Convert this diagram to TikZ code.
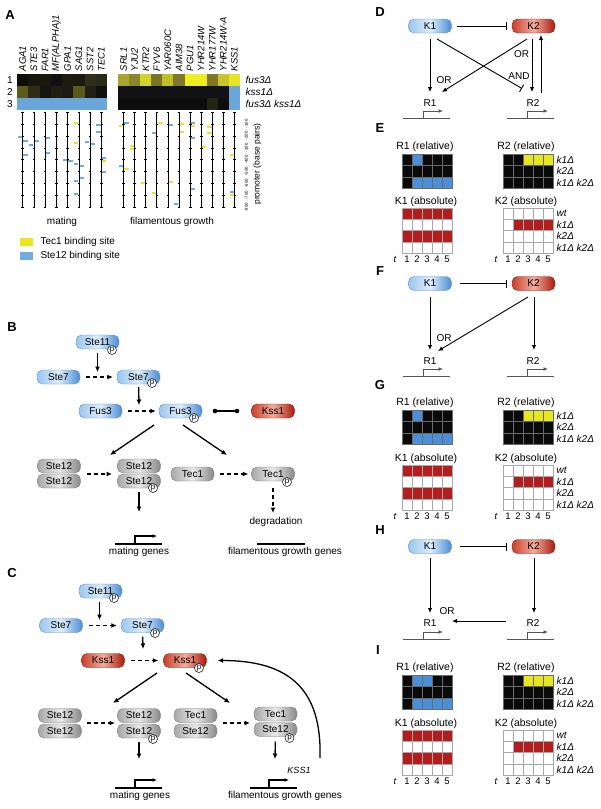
\documentclass[tikz,border=0pt]{standalone}
\usepackage{fontspec}
\setmainfont{Liberation Sans}
\usetikzlibrary{arrows.meta,calc}

\definecolor{bL}{HTML}{9CC6EE}
\definecolor{bM}{HTML}{DDEEFB}
\definecolor{bR}{HTML}{4A8CD4}
\definecolor{bD}{HTML}{5A8FC6}
\definecolor{rL}{HTML}{C8402E}
\definecolor{rM}{HTML}{F2AC9C}
\definecolor{rR}{HTML}{A81A0C}
\definecolor{rD}{HTML}{8E1A10}
\definecolor{gL}{HTML}{A8A8A8}
\definecolor{gM}{HTML}{E8E8E8}
\definecolor{gR}{HTML}{888888}
\definecolor{gD}{HTML}{7A7A7A}
\definecolor{hk}{HTML}{0A0A0A}
\definecolor{hb}{HTML}{4B8FD9}
\definecolor{hy}{HTML}{E8E61E}
\definecolor{hr}{HTML}{B21E1E}
\definecolor{hw}{HTML}{FFFFFF}
\definecolor{siteY}{HTML}{ECE41E}
\definecolor{siteB}{HTML}{72ACDE}
\definecolor{hmB}{HTML}{6AA6DC}
\definecolor{hmK}{HTML}{101216}
\definecolor{hmO}{HTML}{242414}
\definecolor{geneG}{HTML}{555555}
\definecolor{relG}{HTML}{6A6A6A}
\definecolor{absG}{HTML}{A8A8A8}

\tikzset{
  plbl/.style={font=\bfseries\fontsize{13}{15}\selectfont},
  gname/.style={rotate=90, anchor=west, inner sep=0.5pt, font=\itshape\fontsize{9.5}{10}\selectfont},
  rlab/.style={anchor=west, inner sep=0.5pt, font=\itshape\fontsize{10}{12}\selectfont},
  tick/.style={rotate=90, inner sep=0pt, font=\fontsize{4.3}{5}\selectfont},
  pill/.style={rounded corners=5.5pt, minimum width=43pt, minimum height=14pt, inner sep=0pt, line width=0.4pt},
  bluepill/.style={pill, draw=bD, left color=bL, right color=bR, middle color=bM},
  redpill/.style={pill, draw=rD, left color=rL, right color=rR, middle color=rM},
  greypill/.style={pill, draw=gD, left color=gL, right color=gR, middle color=gM},
  phos/.style={circle, draw=black, fill=white, line width=0.5pt, inner sep=0pt, minimum size=9pt, font=\fontsize{8}{8}\selectfont},
  bdot/.style={circle, fill=black, inner sep=0pt, minimum size=4.6pt},
  arr/.style={line width=1.3pt, -{Latex[length=5.5pt,width=5pt]}},
  darr/.style={arr, dash pattern=on 4pt off 3pt},
  thinarr/.style={line width=0.9pt, -{Latex[length=5pt,width=4.5pt]}},
  inh/.style={line width=0.9pt, -{Bar[width=8pt,line width=0.9pt]}},
  gene/.style={line width=1.3pt},
  prom/.style={line width=1.1pt, -{Latex[length=4.5pt,width=4pt]}},
  dgene/.style={line width=1pt, draw=geneG},
  dprom/.style={line width=1pt, draw=geneG, -{Latex[length=4.5pt,width=4pt]}},
  ttl/.style={font=\fontsize{10.5}{12}\selectfont},
  tl/.style={inner sep=0pt, font=\fontsize{9.5}{10}\selectfont},
}

\newcommand\hgrid[5]{%
  \foreach \row [count=\rr] in {#5} {%
    \foreach \hc [count=\ii] in \row {%
      \filldraw[fill=h\hc, draw=#4, line width=0.5pt] ({#1+10*(\ii-1)},{#2+#3*(\rr-1)}) rectangle ++(10,#3);
    }%
  }%
}
\newcommand\trow[2]{%
  \node[tl] (tt) at ({#1-7},#2) {\textit{t}};
  \foreach \n in {1,...,5} \node[tl] (tn\n) at ({#1+10*\n-5},#2) {\n};
}
\newcommand\bsite[4]{\fill[#4] ({#1+#3*0.7},{#2-1}) rectangle ({#1+#3*5},{#2+1});}

\begin{document}
\begin{tikzpicture}[x=1pt,y=-1pt, every node/.style={font=\fontsize{10}{12}\selectfont, text=black}]
\useasboundingbox (0,0) rectangle (601,809);
\fill[white] (0,0) rectangle (601,809);

%================ Panel A ================
\node[plbl] (lA) at (10,15) {A};
\foreach \g [count=\ii] in {AGA1,STE3,FAR1,MF(ALPHA)1,GPA1,SAG1,SST2,TEC1}
  \node[gname] (mg\ii) at ({17+11.25*(\ii-0.5)},72) {\g};
\foreach \g [count=\ii] in {SRL1,YJU2,KTR2,FYV6,YAR060C,AIM38,PGU1,YHR214W,YHR177W,YHR214W-A,KSS1}
  \node[gname] (fg\ii) at ({118+11.09*(\ii-0.5)},72) {\g};

% heatmaps
\foreach \col [count=\ii] in {0E0E0A,16160F,18180F,101010,1E1C10,1A1A10,302E18,2A2A18}
  {\definecolor{tmpc}{HTML}{\col}\fill[tmpc] ({17+11.25*(\ii-1)},74) rectangle ++(11.3,12.2);}
\foreach \col [count=\ii] in {5E5C1C,2E2C14,151510,1E1E12,1A1A10,5A581C,202014,101010}
  {\definecolor{tmpc}{HTML}{\col}\fill[tmpc] ({17+11.25*(\ii-1)},86) rectangle ++(11.3,12.2);}
\fill[hmB] (17,98) rectangle (107,110);
\foreach \col [count=\ii] in {A8A42E,8C8628,D6D22C,7A7428,C2BE2A,807A28,F0EC22,F0EC22,7E7828,C8C42C,E8E428}
  {\definecolor{tmpc}{HTML}{\col}\fill[tmpc] ({118+11.09*(\ii-1)},74) rectangle ++(11.15,12.2);}
\fill[hmK] (118,86) rectangle (229,98);
\fill[black!95] (118,98) rectangle (229,110);
\fill[hmO] (207,98) rectangle (218,110);
\fill[hmB] (229,86) rectangle (240,110);

\node (n1) at (10,80) {1};
\node (n2) at (10,92) {2};
\node (n3) at (10,104) {3};
\node[rlab] (lf) at (245,80) {fus3Δ};
\node[rlab] (lk) at (245,92) {kss1Δ};
\node[rlab] (lfk) at (245,104) {fus3Δ kss1Δ};

% promoter lines
\foreach \x in {22.6,33.9,45.1,56.4,67.6,78.9,90.1,101.4,123.5,134.6,145.7,156.8,167.9,179.0,190.2,201.3,212.4,223.5,234.6} {
  \draw[line width=0.7pt] (\x,112) -- (\x,207);
  \foreach \k in {0,...,8} \draw[line width=0.4pt] ({\x-1.3},{112+11.9*\k}) -- ({\x+1.3},{112+11.9*\k});
}
% binding sites: x, y, side(-1 left / 1 right), colour
\bsite{22.6}{137}{-1}{siteB}\bsite{22.6}{141}{1}{siteB}\bsite{22.6}{155}{1}{siteB}
\bsite{33.9}{141}{1}{siteB}\bsite{33.9}{144.5}{-1}{siteB}
\bsite{45.1}{138}{1}{siteB}\bsite{45.1}{153}{1}{siteB}
\bsite{67.6}{160}{-1}{siteB}\bsite{67.6}{161}{1}{siteB}
\bsite{78.9}{123}{-1}{siteY}\bsite{78.9}{143}{-1}{siteY}\bsite{78.9}{164}{-1}{siteB}\bsite{78.9}{166}{1}{siteB}
\bsite{78.9}{178}{1}{siteB}\bsite{78.9}{181}{-1}{siteB}\bsite{78.9}{194}{-1}{siteB}
\bsite{90.1}{142}{-1}{siteB}\bsite{90.1}{143.5}{1}{siteB}
\bsite{101.4}{125}{-1}{siteB}\bsite{101.4}{132}{-1}{siteB}\bsite{101.4}{158}{1}{siteB}\bsite{101.4}{160.5}{1}{siteY}\bsite{101.4}{172}{1}{siteB}
\bsite{123.5}{123.3}{1}{siteB}\bsite{123.5}{126}{-1}{siteY}\bsite{123.5}{166}{-1}{siteB}\bsite{123.5}{169}{1}{siteY}
\bsite{134.6}{146}{-1}{siteY}\bsite{134.6}{149}{-1}{siteY}
\bsite{145.7}{183}{-1}{siteY}
\bsite{156.8}{123.3}{1}{siteY}\bsite{156.8}{133}{-1}{siteB}\bsite{156.8}{193}{-1}{siteY}
\bsite{167.9}{125}{1}{siteB}\bsite{167.9}{182}{1}{siteY}
\bsite{179.0}{124}{1}{siteY}\bsite{179.0}{132}{1}{siteY}\bsite{179.0}{204}{-1}{siteB}
\bsite{190.2}{123}{1}{siteB}\bsite{190.2}{126}{1}{siteY}\bsite{190.2}{138}{1}{siteB}\bsite{190.2}{189}{1}{siteB}
\bsite{201.3}{147}{1}{siteY}
\bsite{212.4}{127}{-1}{siteY}\bsite{212.4}{133}{-1}{siteY}
\bsite{234.6}{155}{-1}{siteY}\bsite{234.6}{192}{-1}{siteB}\bsite{234.6}{194.5}{-1}{siteY}

\foreach \v [count=\k] in {-100,-200,-300,-400,-500,-600,-700,-800}
  \node[tick] (ax\k) at (246.5,{112+11.9*\k}) {\v};
\node[rotate=90, font=\fontsize{8.5}{10}\selectfont] (axl) at (257.5,164) {promoter (base pairs)};

\node (tmat) at (62,222) {mating};
\node (tfil) at (172,222) {filamentous growth};
\fill[siteY] (20,238) rectangle (33,246);
\node[anchor=west] (legY) at (37,242) {Tec1 binding site};
\fill[siteB] (20,252) rectangle (33,259.5);
\node[anchor=west] (legB) at (37,256) {Ste12 binding site};

%================ Panel B ================
\node[plbl] (lB) at (12,327) {B};
\node[bluepill] (bSte11) at (97.5,342) {Ste11};
\node[phos] (bP11) at (112,350) {p};
\node[bluepill] (bSte7) at (58.5,377) {Ste7};
\node[bluepill] (bSte7p) at (138.5,377) {Ste7};
\node[phos] (bP7) at (152,383) {p};
\node[bluepill] (bFus3) at (100.5,411) {Fus3};
\node[bluepill] (bFus3p) at (180.5,411) {Fus3};
\node[phos] (bPF) at (194,418) {p};
\node[redpill] (bKss1) at (273,411) {Kss1};

\draw[darr, shorten <=6pt, shorten >=4pt] (bSte7) -- (bSte7p);
\coordinate (bM1) at (97.5,372);
\draw[arr, shorten <=4pt] (bSte11) -- (bM1);
\draw[darr, shorten <=6pt, shorten >=3pt] (bFus3) -- (bFus3p);
\coordinate (bM2) at (139,405);
\draw[arr, shorten <=3pt] (bSte7p) -- (bM2);
\node[bdot] (bDot1) at (215,411) {};
\node[bdot] (bDot2) at (237,411) {};
\draw[line width=1.3pt] (bDot1.center) -- (bDot2.center);

\node[greypill] (bA1) at (59,466) {Ste12};
\node[greypill] (bA2) at (59,481) {Ste12};
\node[greypill] (bB1) at (139,466) {Ste12};
\node[greypill] (bB2) at (139,481) {Ste12};
\node[phos] (bPB) at (153,488) {p};
\node[greypill] (bT1) at (192.5,474) {Tec1};
\node[greypill] (bT2) at (273,474) {Tec1};
\node[phos] (bPT) at (287,482) {p};

\coordinate (bF1) at (154,425);
\coordinate (bF2) at (183,425);
\coordinate (bE1) at (110,455);
\coordinate (bE2) at (227,455);
\draw[arr] (bF1) -- (bE1);
\draw[arr] (bF2) -- (bE2);
\draw[darr, shorten <=6pt, shorten >=6pt] (80.5,474) -- (118,474);
\draw[darr, shorten <=6pt, shorten >=3pt] (bT1) -- (bT2);
\node (bdeg) at (276,522) {degradation};
\coordinate (bDg) at (273,513);
\draw[darr, shorten <=7pt] (bT2) -- (bDg);
\coordinate (bG1) at (139,512);
\draw[arr, shorten <=4pt] (bB2) -- (bG1);

\draw[gene] (115,544) -- (162,544);
\draw[prom] (135,544) |- (157,536);
\node (bmg) at (139,551.5) {mating genes};
\draw[gene] (257,544) -- (305,544);
\node (bfg) at (285,551.5) {filamentous growth genes};

%================ Panel C ================
\node[plbl] (lC) at (12,573) {C};
\node[bluepill] (cSte11) at (100.5,591) {Ste11};
\node[phos] (cP11) at (114,598) {p};
\node[bluepill] (cSte7) at (61,625.5) {Ste7};
\node[bluepill] (cSte7p) at (142.5,625.5) {Ste7};
\node[phos] (cP7) at (155,633) {p};
\node[redpill] (cKss1) at (103,660.5) {Kss1};
\node[redpill] (cKss1p) at (185,660.5) {Kss1};
\node[phos] (cPK) at (199,668) {p};

\coordinate (cM1) at (99.5,620);
\draw[arr, shorten <=4pt] (cSte11.south -| cM1) -- (cM1);
\draw[darr, shorten <=6pt, shorten >=4pt] (cSte7) -- (cSte7p);
\coordinate (cM2) at (143,649);
\draw[arr, shorten <=4pt] (cSte7p) -- (cM2);
\draw[darr, shorten <=6pt, shorten >=5pt] (cKss1) -- (cKss1p);

\node[greypill] (cA1) at (60,715.5) {Ste12};
\node[greypill] (cA2) at (60,731) {Ste12};
\node[greypill] (cB1) at (139,715.5) {Ste12};
\node[greypill] (cB2) at (139,731) {Ste12};
\node[phos] (cPB) at (153,739) {p};
\node[greypill] (cC1) at (195.5,715.5) {Tec1};
\node[greypill] (cC2) at (195.5,731) {Ste12};
\node[greypill] (cD1) at (275.5,714) {Tec1};
\node[greypill] (cD2) at (275.5,729.5) {Ste12};
\node[phos] (cPD) at (289.5,738) {p};

\coordinate (cF1) at (157,673);
\coordinate (cF2) at (186,673);
\coordinate (cE1) at (113,703);
\coordinate (cE2) at (230,703);
\draw[arr] (cF1) -- (cE1);
\draw[arr] (cF2) -- (cE2);
\draw[darr, shorten <=6pt, shorten >=3pt] (81,723) -- (118,723);
\draw[darr, shorten <=6pt, shorten >=4pt] (217,723) -- (254,723);
\coordinate (cG1) at (139,759);
\coordinate (cG2) at (275,759);
\draw[arr, shorten <=4pt] (cB2) -- (cG1);
\draw[arr, shorten <=5pt] (cD2) -- (cG2);

\draw[gene] (115,788) -- (162,788);
\draw[prom] (135,788) |- (157,780);
\node (cmg) at (140,796) {mating genes};
\draw[gene] (250,788) -- (297,788);
\draw[prom] (269,788) |- (289,780);
\node (cfg) at (285,796) {filamentous growth genes};
\node[font=\itshape\fontsize{9}{10}\selectfont] (cKSS) at (299,770) {KSS1};
\coordinate (cfb) at (320,758);
\draw[arr, shorten >=11pt] (cfb) .. controls (322,690) and (290,660.5) .. (cKss1p.east);

%================ Panel D ================
\node[plbl] (lD) at (380,12.5) {D};
\node[bluepill] (dK1) at (430,26) {K1};
\node[redpill] (dK2) at (533.5,26) {K2};
\draw[inh, shorten <=5.5pt, shorten >=5pt] (dK1) -- (dK2);
\node (dR1) at (430,103) {R1};
\node (dR2) at (533,103) {R2};
\coordinate (dK1a) at (430,39);
\coordinate (dR1a) at (430,92);
\coordinate (dK2a) at (527,39);
\coordinate (dR1b) at (442,92);
\coordinate (dK1b) at (437,39);
\coordinate (dR2b) at (522,88.5);
\coordinate (dK2c) at (532,39);
\coordinate (dR2c) at (532,92);
\coordinate (dR2d) at (541,93);
\coordinate (dK2d) at (541,35);
\draw[thinarr] (dK1a) -- (dR1a);
\draw[thinarr] (dK2a) -- (dR1b);
\draw[inh] (dK1b) -- (dR2b);
\draw[thinarr] (dK2c) -- (dR2c);
\draw[thinarr] (dR2d) -- (dK2d);
\node (dOR1) at (521.5,54) {OR};
\node (dAND) at (519,76.5) {AND};
\node (dOR2) at (444,80) {OR};
\draw[dgene] (403,118) -- (450,118);
\draw[dprom] (423,118) |- (443,111);
\draw[dgene] (507,118) -- (554,118);
\draw[dprom] (527,118) |- (548,111);

%================ Panel E ================
\node[plbl] (lE) at (380,128) {E};
\node[ttl] (eT1) at (425,147) {R1 (relative)};
\node[ttl] (eT2) at (526,147) {R2 (relative)};
\hgrid{402}{154}{11.5}{relG}{{k,b,k,k,k},{k,k,k,k,k},{k,b,b,b,b}}
\hgrid{503}{154}{11.5}{relG}{{k,k,y,y,y},{k,k,k,k,k},{k,k,k,k,k}}
\node[rlab] (eL1) at (556,159.75) {k1Δ};
\node[rlab] (eL2) at (556,171.25) {k2Δ};
\node[rlab] (eL3) at (556,182.75) {k1Δ k2Δ};
\node[ttl] (eT3) at (426,202) {K1 (absolute)};
\node[ttl] (eT4) at (526,202) {K2 (absolute)};
\hgrid{402}{208}{11.25}{absG}{{r,r,r,r,r},{w,w,w,w,w},{r,r,r,r,r},{w,w,w,w,w}}
\hgrid{503}{208}{11.25}{absG}{{w,w,w,w,w},{w,r,r,r,r},{w,w,w,w,w},{w,w,w,w,w}}
\node[rlab] (eW1) at (556,213.6) {wt};
\node[rlab] (eW2) at (556,224.9) {k1Δ};
\node[rlab] (eW3) at (556,236.1) {k2Δ};
\node[rlab] (eW4) at (556,247.4) {k1Δ k2Δ};
\trow{402}{259.5}
\trow{503}{259.5}

%================ Panel F ================
\node[plbl] (lF) at (380,271) {F};
\node[bluepill] (fK1) at (430,283.5) {K1};
\node[redpill] (fK2) at (533.5,283.5) {K2};
\draw[inh, shorten <=8pt, shorten >=5pt] (fK1) -- (fK2);
\node (fR1) at (430,361) {R1};
\node (fR2) at (533,361) {R2};
\coordinate (fK1a) at (430,297);
\coordinate (fR1a) at (430,350);
\coordinate (fK2a) at (528,297);
\coordinate (fR1b) at (438,351);
\coordinate (fK2c) at (534,297);
\coordinate (fR2c) at (534,350);
\draw[thinarr] (fK1a) -- (fR1a);
\draw[thinarr] (fK2a) -- (fR1b);
\draw[thinarr] (fK2c) -- (fR2c);
\node (fOR) at (444,338) {OR};
\draw[dgene] (403,376) -- (450,376);
\draw[dprom] (423,376) |- (443,369);
\draw[dgene] (507,376) -- (554,376);
\draw[dprom] (527,376) |- (548,369);

%================ Panel G ================
\node[plbl] (lG) at (380,385) {G};
\node[ttl] (gT1) at (425,403) {R1 (relative)};
\node[ttl] (gT2) at (526,403) {R2 (relative)};
\hgrid{402}{410}{11.5}{relG}{{k,b,k,k,k},{k,k,k,k,k},{k,b,b,b,b}}
\hgrid{503}{410}{11.5}{relG}{{k,k,y,y,y},{k,k,k,k,k},{k,k,k,k,k}}
\node[rlab] (gL1) at (556,415.75) {k1Δ};
\node[rlab] (gL2) at (556,427.25) {k2Δ};
\node[rlab] (gL3) at (556,438.75) {k1Δ k2Δ};
\node[ttl] (gT3) at (426,458.5) {K1 (absolute)};
\node[ttl] (gT4) at (526,458.5) {K2 (absolute)};
\hgrid{402}{465}{11.25}{absG}{{r,r,r,r,r},{w,w,w,w,w},{r,r,r,r,r},{w,w,w,w,w}}
\hgrid{503}{465}{11.25}{absG}{{w,w,w,w,w},{w,r,r,r,r},{w,w,w,w,w},{w,w,w,w,w}}
\node[rlab] (gW1) at (556,470.6) {wt};
\node[rlab] (gW2) at (556,481.9) {k1Δ};
\node[rlab] (gW3) at (556,493.1) {k2Δ};
\node[rlab] (gW4) at (556,504.4) {k1Δ k2Δ};
\trow{402}{516}
\trow{503}{516}

%================ Panel H ================
\node[plbl] (lH) at (380,530) {H};
\node[bluepill] (hK1) at (430,546.5) {K1};
\node[redpill] (hK2) at (533.5,546.5) {K2};
\draw[inh, shorten <=8pt, shorten >=5pt] (hK1) -- (hK2);
\node (hR1) at (430,623) {R1};
\node (hR2) at (533,623) {R2};
\coordinate (hK1a) at (430,558);
\coordinate (hR1a) at (430,613);
\coordinate (hK2a) at (534,558);
\coordinate (hR2a) at (534,613);
\coordinate (hR2b) at (506,621);
\coordinate (hR1b) at (452,621);
\draw[thinarr] (hK1a) -- (hR1a);
\draw[thinarr] (hK2a) -- (hR2a);
\draw[thinarr] (hR2b) -- (hR1b);
\node (hOR) at (447,611) {OR};
\draw[dgene] (403,639) -- (450,639);
\draw[dprom] (423,639) |- (443,632);
\draw[dgene] (507,639) -- (554,639);
\draw[dprom] (527,639) |- (548,632);

%================ Panel I ================
\node[plbl] (lI) at (378,650) {I};
\node[ttl] (iT1) at (425,668) {R1 (relative)};
\node[ttl] (iT2) at (526,668) {R2 (relative)};
\hgrid{402}{675}{11.5}{relG}{{k,b,b,k,k},{k,k,k,k,k},{k,b,b,b,b}}
\hgrid{503}{675}{11.5}{relG}{{k,k,y,y,y},{k,k,k,k,k},{k,k,k,k,k}}
\node[rlab] (iL1) at (556,680.75) {k1Δ};
\node[rlab] (iL2) at (556,692.25) {k2Δ};
\node[rlab] (iL3) at (556,703.75) {k1Δ k2Δ};
\node[ttl] (iT3) at (426,723.5) {K1 (absolute)};
\node[ttl] (iT4) at (526,723.5) {K2 (absolute)};
\hgrid{402}{730}{11.25}{absG}{{r,r,r,r,r},{w,w,w,w,w},{r,r,r,r,r},{w,w,w,w,w}}
\hgrid{503}{730}{11.25}{absG}{{w,w,w,w,w},{w,r,r,r,r},{w,w,w,w,w},{w,w,w,w,w}}
\node[rlab] (iW1) at (556,735.6) {wt};
\node[rlab] (iW2) at (556,746.9) {k1Δ};
\node[rlab] (iW3) at (556,758.1) {k2Δ};
\node[rlab] (iW4) at (556,769.4) {k1Δ k2Δ};
\trow{402}{781}
\trow{503}{781}
\end{tikzpicture}
\end{document}
